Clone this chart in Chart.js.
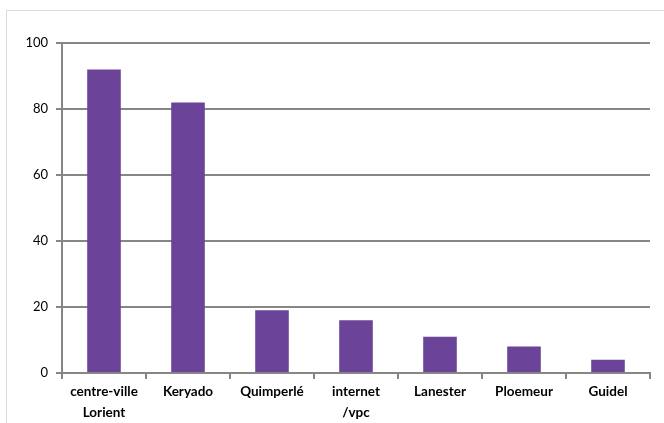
<!DOCTYPE html>
<html>
<head>
<meta charset="utf-8">
<script src="https://cdn.jsdelivr.net/npm/chart.js@4"></script>
<style>
  html, body { margin: 0; padding: 0; background: #fff; overflow: hidden; }
  #wrap { position: relative; width: 664px; height: 423px; }
  #frame { position: absolute; left: 6px; top: 10px; width: 700px; height: 450px;
           border-top: 1px solid #dcdcd4; border-left: 1px solid #dcdcd4; }
  canvas { position: absolute; left: 0; top: 0; }
</style>
</head>
<body>
<div id="wrap">
  <div id="frame"></div>
  <canvas id="lieux" width="664" height="423"></canvas>
</div>
<script>
var categories = [["centre-ville", "Lorient"], "Keryado", "Quimperlé", ["internet", "/vpc"], "Lanester", "Ploemeur", "Guidel"];
var values = [92, 82, 19, 16, 11, 8, 4];
var yTicks = [0, 20, 40, 60, 80, 100];

var gridGrey = '#868686';
var fontFamily = 'Lato, "Open Sans", sans-serif';

var ctx = document.getElementById("lieux");

var chart = new Chart(ctx, {
  type: 'bar',
  data: {
    labels: categories,
    datasets: [{
      data: values,
      backgroundColor: '#6b4398',
      borderWidth: 0,
      categoryPercentage: 1,
      barPercentage: 0.4
    }]
  },
  options: {
    responsive: false,
    animation: false,
    layout: { padding: { top: 43, right: 14, left: 0, bottom: 0 } },
    plugins: {
      legend: { display: false },
      tooltip: { enabled: false }
    },
    scales: {
      x: {
        grid: { drawOnChartArea: false, drawTicks: true, tickLength: 6, color: gridGrey, lineWidth: 2 },
        border: { color: gridGrey, width: 2 },
        ticks: {
          color: '#000',
          padding: 3,
          maxRotation: 0,
          autoSkip: false,
          font: { family: fontFamily, size: 13.5, weight: 'bold', lineHeight: 1.5 }
        },
        afterFit: function(scale) { scale.height = 50; }
      },
      y: {
        min: 0,
        max: 100,
        afterBuildTicks: function(scale) {
          scale.ticks = yTicks.map(function(v) { return { value: v }; });
        },
        grid: { color: gridGrey, lineWidth: 2, tickLength: 6 },
        border: { color: gridGrey, width: 2 },
        ticks: {
          color: '#000',
          padding: 8,
          font: { family: fontFamily, size: 13 }
        },
        afterFit: function(scale) { scale.width = 62; }
      }
    }
  }
});
</script>
</body>
</html>
